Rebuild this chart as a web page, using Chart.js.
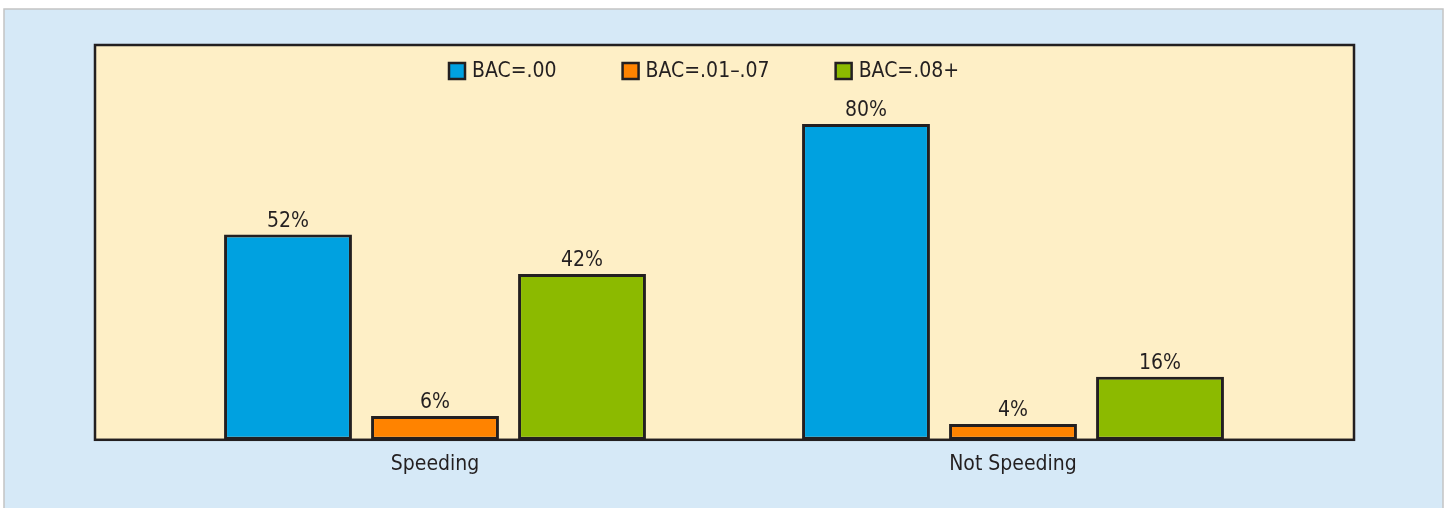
<!DOCTYPE html>
<html>
  <head>
    <script src="https://cdn.jsdelivr.net/npm/chart.js@4.4.0/dist/chart.umd.min.js"></script>
    <style>
      body { margin: 0; background: #fff; }
      #wrap { width: 1445px; height: 508px; }
    </style>
  </head>
  <body>
    <div id="wrap"><canvas id="bac-chart"></canvas></div>
    <script>
      // INPUT DATA

      const categories = ["Speeding", "Not Speeding"];
      const seriesLabels = ["BAC=.00", "BAC=.01\u2013.07", "BAC=.08+"];
      const bac00 = [52, 80];
      const bac0107 = [6, 4];
      const bac08 = [42, 16];

      const seriesColors = ["#00a1e0", "#ff8300", "#8cba00"];
      const ink = "#231f20";
      const fontFamily = "'Liberation Sans Narrow', 'DejaVu Sans Condensed', 'Roboto Condensed', sans-serif";

      // background panels, frame, legend and value labels
      const decorPlugin = {
        id: "decor",
        beforeDraw(chart) {
          const c = chart.ctx;
          const a = chart.chartArea;
          c.save();
          c.fillStyle = "#ffffff";
          c.fillRect(0, 0, chart.width, chart.height);
          c.fillStyle = "#d6e9f7";
          c.fillRect(4, 9, 1439, chart.height);
          c.strokeStyle = "#c4c4c4";
          c.lineWidth = 1.5;
          c.strokeRect(4, 9, 1439, chart.height + 5);
          // plot frame
          c.fillStyle = "#feefc6";
          c.fillRect(a.left - 51, a.top, a.width + 103, a.height);
          c.strokeStyle = ink;
          c.lineWidth = 2.5;
          c.strokeRect(a.left - 51, a.top, a.width + 103, a.height);
          c.restore();
        },
        afterDatasetsDraw(chart) {
          const c = chart.ctx;
          const a = chart.chartArea;
          c.save();
          c.font = "21px " + fontFamily;
          c.fillStyle = ink;
          c.textAlign = "center";
          c.textBaseline = "alphabetic";
          chart.data.datasets.forEach(function (ds, i) {
            chart.getDatasetMeta(i).data.forEach(function (bar, j) {
              c.fillText(ds.data[j] + "%", bar.x, bar.y - 8);
            });
          });
          // legend
          const box = 16, gapText = 7, gapItem = 66;
          const widths = chart.data.datasets.map(function (ds) {
            return box + gapText + c.measureText(ds.label).width;
          });
          let x = 449;
          const yMid = 71;
          c.textAlign = "left";
          c.textBaseline = "middle";
          chart.data.datasets.forEach(function (ds, i) {
            c.fillStyle = ds.backgroundColor;
            c.fillRect(x, yMid - box / 2, box, box);
            c.strokeStyle = ink;
            c.lineWidth = 2.5;
            c.strokeRect(x, yMid - box / 2, box, box);
            c.fillStyle = ink;
            c.fillText(ds.label, x + box + gapText, yMid + 1);
            x += widths[i] + gapItem;
          });
          c.restore();
        }
      };

      const barStyle = {
        borderColor: ink,
        borderWidth: 3,
        borderSkipped: false,
        barPercentage: 0.87,
        categoryPercentage: 0.763
      };

      new Chart(document.getElementById("bac-chart"), {
        type: "bar",
        data: {
          labels: categories,
          datasets: [
            Object.assign({ label: seriesLabels[0], data: bac00, backgroundColor: seriesColors[0] }, barStyle),
            Object.assign({ label: seriesLabels[1], data: bac0107, backgroundColor: seriesColors[1] }, barStyle),
            Object.assign({ label: seriesLabels[2], data: bac08, backgroundColor: seriesColors[2] }, barStyle)
          ]
        },
        options: {
          responsive: true,
          maintainAspectRatio: false,
          animation: false,
          layout: { padding: { left: 146, right: 143, top: 45, bottom: 19 } },
          plugins: {
            legend: { display: false },
            tooltip: { enabled: false }
          },
          scales: {
            x: {
              grid: { display: false, drawTicks: false },
              border: { display: false },
              ticks: {
                color: ink,
                padding: 12,
                font: { size: 21, family: fontFamily }
              }
            },
            y: {
              display: false,
              min: 0,
              max: 100
            }
          }
        },
        plugins: [decorPlugin]
      });
    </script>
  </body>
</html>
